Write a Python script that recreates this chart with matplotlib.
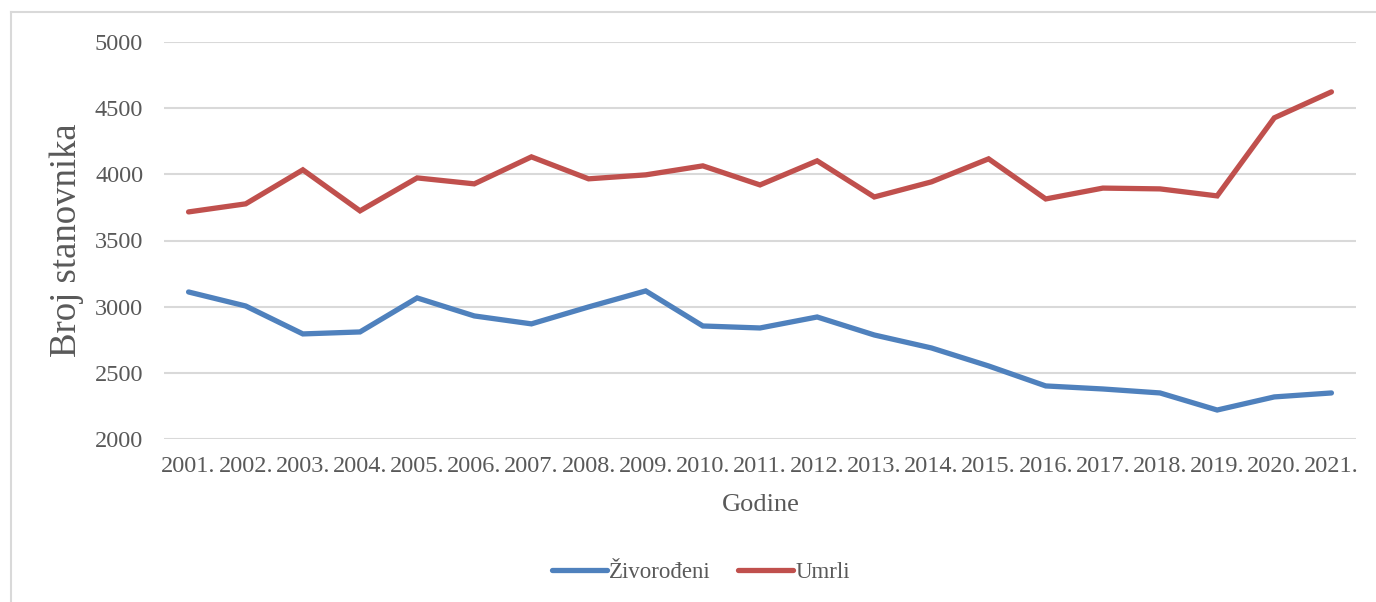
import matplotlib
matplotlib.use("Agg")
import matplotlib.pyplot as plt
from matplotlib.lines import Line2D

# podaci procitani sa grafika
godine = ["2001.", "2002.", "2003.", "2004.", "2005.", "2006.", "2007.",
          "2008.", "2009.", "2010.", "2011.", "2012.", "2013.", "2014.",
          "2015.", "2016.", "2017.", "2018.", "2019.", "2020.", "2021."]
zivorodjeni = [3111, 3005, 2794, 2809, 3066, 2930, 2870, 2998, 3119, 2854,
               2839, 2922, 2786, 2688, 2552, 2401, 2378, 2348, 2219, 2318, 2348]
umrli = [3716, 3777, 4034, 3724, 3973, 3928, 4132, 3966, 3996, 4064,
         3920, 4102, 3829, 3943, 4117, 3814, 3896, 3890, 3837, 4427, 4623]
y_ticks = [2000, 2500, 3000, 3500, 4000, 4500, 5000]

plt.rcParams['font.family'] = ['Liberation Serif', 'DejaVu Serif']

W, H = 1376, 602
fig = plt.figure(figsize=(W / 100, H / 100), dpi=100)
ax = fig.add_axes([164 / W, 1 - 439 / H, (1356 - 164) / W, (439 - 42) / H])

x = range(len(godine))
ax.plot(x, zivorodjeni, color='#4F81BD', lw=3.8, solid_capstyle='round',
        solid_joinstyle='miter', label='Živorođeni', zorder=3)
ax.plot(x, umrli, color='#C0504D', lw=3.8, solid_capstyle='round',
        solid_joinstyle='miter', label='Umrli', zorder=3)

ax.set_xlim(-0.43, len(godine) - 0.57)
ax.set_ylim(2000, 5000)
ax.set_yticks(y_ticks)
ax.set_xticks(list(x))
ax.set_xticklabels(godine)
ax.grid(axis='y', color='#D9D9D9', lw=1.5)
ax.set_axisbelow(True)
for s in ax.spines.values():
    s.set_visible(False)
ax.tick_params(axis='both', length=0, labelsize=17.5, colors='#595959')
ax.tick_params(axis='x', pad=12)
ax.tick_params(axis='y', pad=15)

fig.text(67 / W, 1 - 240 / H, 'Broj stanovnika', rotation=90, ha='center',
         va='center', fontsize=26.5, color='#595959')
fig.text(761 / W, 1 - 505 / H, 'Godine', ha='center', va='center',
         fontsize=19, color='#595959')

leg = fig.legend(loc='center', bbox_to_anchor=(701 / W, 1 - 572 / H), ncol=2,
                 frameon=False, fontsize=16.5, handlelength=2.4,
                 handletextpad=0.1, columnspacing=1.2)
for t in leg.get_texts():
    t.set_color('#595959')

# okvir oko grafika
fig.add_artist(Line2D([11 / W, 1], [1 - 12 / H, 1 - 12 / H], color='#D9D9D9', lw=1.5))
fig.add_artist(Line2D([11 / W, 11 / W], [0, 1 - 12 / H], color='#D9D9D9', lw=1.5))

fig.savefig('out.png', dpi=100)
